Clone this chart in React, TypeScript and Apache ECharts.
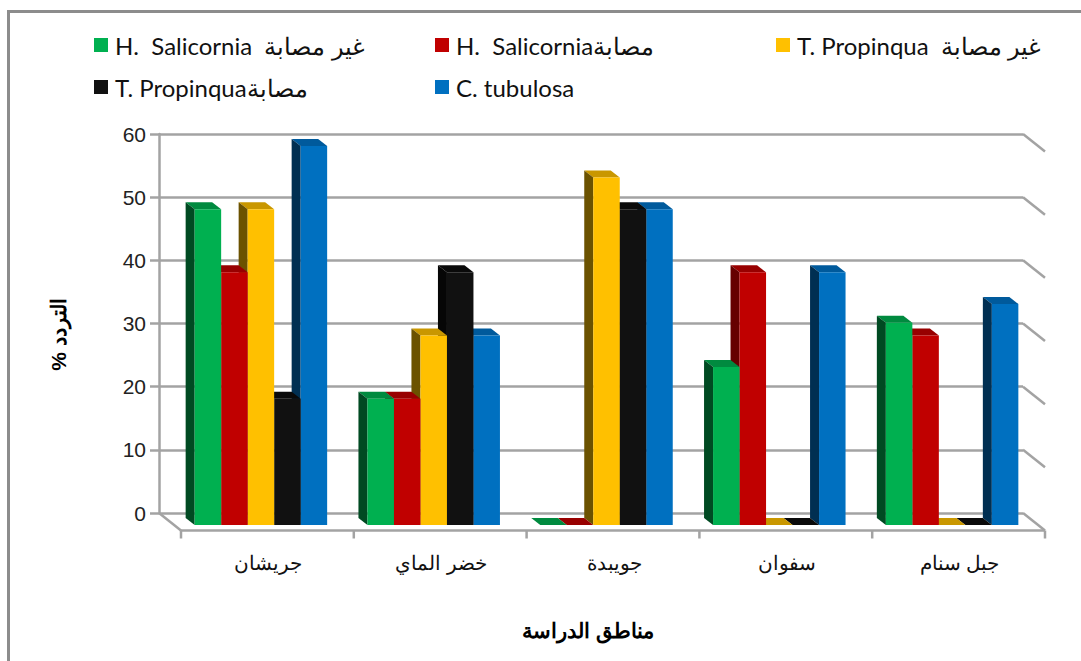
import React, { useEffect, useRef } from "react";
import * as echarts from "echarts";

const categories = ["جريشان", "خضر الماي", "جويبدة", "سفوان", "جبل سنام"];
const seriesNames = [
  "H.  Salicornia  غير مصابة",
  "H.  Salicorniaمصابة",
  "T. Propinqua  غير مصابة",
  "T. Propinquaمصابة",
  "C. tubulosa",
];
const salicorniaHealthy = [50, 20, 0, 25, 32];
const salicorniaInfected = [40, 20, 0, 40, 30];
const propinquaHealthy = [50, 30, 55, 0, 0];
const propinquaInfected = [20, 40, 50, 0, 0];
const tubulosa = [60, 30, 50, 40, 35];
const seriesValues = [salicorniaHealthy, salicorniaInfected, propinquaHealthy, propinquaInfected, tubulosa];
const faceColors = ["#00B050", "#C00000", "#FFC000", "#111111", "#0070C0"];
const topColors = ["#008A3F", "#980000", "#C99700", "#0A0A0A", "#005A9C"];
const sideColors = ["#004A22", "#660000", "#6B5200", "#060606", "#002F52"];
const valueTicks = [0, 10, 20, 30, 40, 50, 60];

const WALL_COLOR = "#A3A3A3";
const DEPTH_X = 22;
const DEPTH_Y = 17.5;
const FRONT_X = 15.5;
const FRONT_Y = 12;
const BAR_W = 26.5;
const BAR_DX = 9;
const BAR_DY = 7;

function barRenderer(s: number) {
  return (_p: any, api: any) => {
    const idx = api.value(0);
    const v = api.value(1);
    const top = api.coord([idx, v]);
    const base = api.coord([idx, 0]);
    const x0 = top[0] + FRONT_X + (s - 2.5) * BAR_W;
    const x1 = x0 + BAR_W;
    const yt = top[1] + FRONT_Y;
    const yb = base[1] + FRONT_Y;
    const children: any[] = [
      {
        type: "polygon",
        shape: { points: [[x0, yt], [x0 - BAR_DX, yt - BAR_DY], [x1 - BAR_DX, yt - BAR_DY], [x1, yt]] },
        style: { fill: topColors[s] },
      },
    ];
    if (v > 0) {
      children.push({
        type: "polygon",
        shape: { points: [[x0, yt], [x0 - BAR_DX, yt - BAR_DY], [x0 - BAR_DX, yb - BAR_DY], [x0, yb]] },
        style: { fill: sideColors[s] },
      });
      children.push({
        type: "rect",
        shape: { x: x0, y: yt, width: BAR_W, height: yb - yt },
        style: { fill: faceColors[s] },
      });
    }
    return { type: "group", children };
  };
}

function wallRenderer(_p: any, api: any) {
  const v = api.value(1);
  const n = categories.length;
  const start = api.coord([0, v]);
  const next = api.coord([1, v]);
  const band = next[0] - start[0];
  const left = start[0] - band / 2;
  const right = left + band * n;
  const y = start[1];
  const lineStyle = { stroke: WALL_COLOR, lineWidth: 2.5, fill: "none" };
  const children: any[] = [
    { type: "line", shape: { x1: right, y1: y, x2: right + DEPTH_X, y2: y + DEPTH_Y }, style: lineStyle },
  ];
  if (v === 0) {
    const fy = y + DEPTH_Y;
    children.push({ type: "line", shape: { x1: left, y1: y, x2: left + DEPTH_X, y2: fy }, style: lineStyle });
    children.push({ type: "line", shape: { x1: left + DEPTH_X, y1: fy, x2: right + DEPTH_X, y2: fy }, style: lineStyle });
    for (let i = 0; i <= n; i++) {
      const t = left + band * i + DEPTH_X;
      children.push({ type: "line", shape: { x1: t, y1: fy, x2: t, y2: fy + 8 }, style: lineStyle });
    }
  }
  return { type: "group", children };
}

const legendSlots = [
  { left: 94, top: 33 },
  { left: 435, top: 33 },
  { left: 776, top: 33 },
  { left: 94, top: 75 },
  { left: 435, top: 75 },
];

export default function App() {
  const ref = useRef<HTMLDivElement>(null);
  useEffect(() => {
    const chart = echarts.init(ref.current!, undefined, { renderer: "svg" });
    chart.setOption({
      animation: false,
      backgroundColor: "#ffffff",
      textStyle: { fontFamily: "'Liberation Sans', Arial, sans-serif" },
      grid: { left: 159, top: 134, width: 864, height: 379 },
      legend: seriesNames.map((name, i) => ({
        data: [name],
        left: legendSlots[i].left,
        top: legendSlots[i].top,
        padding: 0,
        icon: "rect",
        itemWidth: 14,
        itemHeight: 14,
        itemGap: 0,
        selectedMode: false,
        textStyle: { fontFamily: "Lato, sans-serif", fontSize: 24, color: "#111111", padding: [0, 0, 0, 2] },
      })),
      xAxis: {
        type: "category",
        data: categories,
        boundaryGap: true,
        axisLine: { show: false },
        axisTick: { show: false },
        splitLine: { show: false },
        axisLabel: {
          margin: 40,
          fontSize: 20,
          color: "#111111",
          padding: [0, 0, 0, 46],
          interval: 0,
        },
        name: "مناطق الدراسة",
        nameLocation: "middle",
        nameGap: 107,
        nameTextStyle: { fontSize: 21, fontWeight: "bold", color: "#000000", padding: [0, 6, 0, 0] },
      },
      yAxis: {
        type: "value",
        min: 0,
        max: 60,
        interval: 10,
        axisLine: { show: true, lineStyle: { color: WALL_COLOR, width: 2.5 } },
        axisTick: { show: true, length: 9, lineStyle: { color: WALL_COLOR, width: 2.5 } },
        splitLine: { show: true, lineStyle: { color: WALL_COLOR, width: 2.5 } },
        axisLabel: { margin: 13, fontSize: 21, color: "#222222", formatter: (v: number) => String(v) },
        name: "% التردد",
        nameLocation: "middle",
        nameRotate: 90,
        nameGap: 90,
        nameTextStyle: { fontSize: 21, fontWeight: "bold", color: "#000000", padding: [0, 22, 0, 0] },
      },
      graphic: [
        {
          type: "polyline",
          shape: { points: [[8.5, 661], [8.5, 11.5], [1081, 11.5]] },
          style: { stroke: "#8C8C8C", lineWidth: 3, fill: "none" },
          z: 50,
        },
      ],
      series: [
        {
          name: "walls",
          type: "custom",
          silent: true,
          z: 1,
          coordinateSystem: "cartesian2d",
          data: valueTicks.map((v) => [0, v]),
          encode: { x: 0, y: 1 },
          renderItem: wallRenderer,
        },
        ...seriesNames.map((name, s) => ({
          name,
          type: "custom",
          silent: true,
          z: 10 - s,
          coordinateSystem: "cartesian2d",
          itemStyle: { color: faceColors[s] },
          data: seriesValues[s].map((v, i) => [i, v]),
          encode: { x: 0, y: 1 },
          renderItem: barRenderer(s),
        })),
      ],
    });
    return () => chart.dispose();
  }, []);
  return <div ref={ref} style={{ position: "absolute", left: 0, top: 0, width: 1081, height: 661 }} />;
}
